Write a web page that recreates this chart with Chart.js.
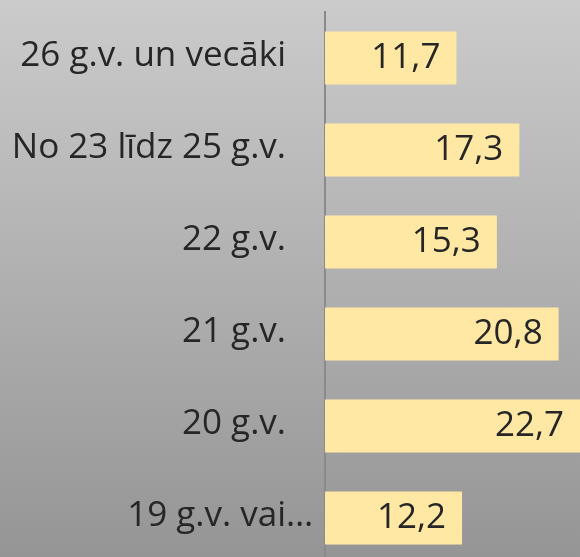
<!DOCTYPE html>
<html>
<head>
<meta charset="utf-8">
<script src="https://cdn.jsdelivr.net/npm/chart.js@4.4.1/dist/chart.umd.min.js"></script>
<style>
  html, body { margin: 0; padding: 0; overflow: hidden; }
  body { width: 580px; height: 557px; background: linear-gradient(to bottom, #cbcbcb 0%, #959595 100%); }
  #wrap { width: 580px; height: 564px; position: relative; }
</style>
</head>
<body>
<div id="wrap"><canvas id="chart"></canvas></div>
<script>
// age groups, top to bottom
const categories = ['26 g.v. un vecāki', 'No 23 līdz 25 g.v.', '22 g.v.', '21 g.v.', '20 g.v.', '19 g.v. vai…'];
const shares = [11.7, 17.3, 15.3, 20.8, 22.7, 12.2];

const FONT = '"Open Sans", "Noto Sans", sans-serif';
const SIZE = 35;
const TEXT = '#262626';

// category names left of the axis; a trailing ellipsis hangs past the text edge
const categoryLabels = {
  id: 'categoryLabels',
  afterDraw(chart) {
    const ctx = chart.ctx;
    const y = chart.scales.y;
    const edge = y.right - 39;
    ctx.save();
    ctx.font = SIZE + 'px ' + FONT;
    ctx.fillStyle = TEXT;
    ctx.textAlign = 'left';
    ctx.textBaseline = 'middle';
    categories.forEach((lbl, i) => {
      const core = lbl.endsWith('…') ? lbl.slice(0, -1) : lbl;
      const w = ctx.measureText(core).width;
      ctx.fillText(lbl, edge - w, y.getPixelForValue(i) - 2);
    });
    ctx.restore();
  }
};

// value at the inner end of each bar
const valueLabels = {
  id: 'valueLabels',
  afterDatasetsDraw(chart) {
    const ctx = chart.ctx;
    const meta = chart.getDatasetMeta(0);
    ctx.save();
    ctx.font = SIZE + 'px ' + FONT;
    ctx.fillStyle = TEXT;
    ctx.textAlign = 'right';
    ctx.textBaseline = 'middle';
    meta.data.forEach((bar, i) => {
      const txt = shares[i].toFixed(1).replace('.', ',');
      ctx.fillText(txt, bar.x - 16, bar.y);
    });
    ctx.restore();
  }
};

new Chart(document.getElementById('chart'), {
  type: 'bar',
  data: {
    labels: categories,
    datasets: [{
      data: shares,
      backgroundColor: '#ffe8a3',
      borderWidth: 0,
      categoryPercentage: 1,
      barPercentage: 0.576
    }]
  },
  options: {
    indexAxis: 'y',
    responsive: true,
    maintainAspectRatio: false,
    animation: false,
    layout: { padding: { top: 12, right: 0, bottom: 0, left: 0 } },
    plugins: {
      legend: { display: false },
      tooltip: { enabled: false }
    },
    scales: {
      x: {
        display: false,
        min: 0,
        max: 22.7
      },
      y: {
        afterFit(scale) {
          scale.width = 325;
          scale.paddingTop = 0;
          scale.paddingBottom = 0;
        },
        grid: { display: false, drawTicks: false },
        border: { display: true, color: '#8a8a8a', width: 2 },
        ticks: { display: false }
      }
    }
  },
  plugins: [categoryLabels, valueLabels]
});
</script>
</body>
</html>
